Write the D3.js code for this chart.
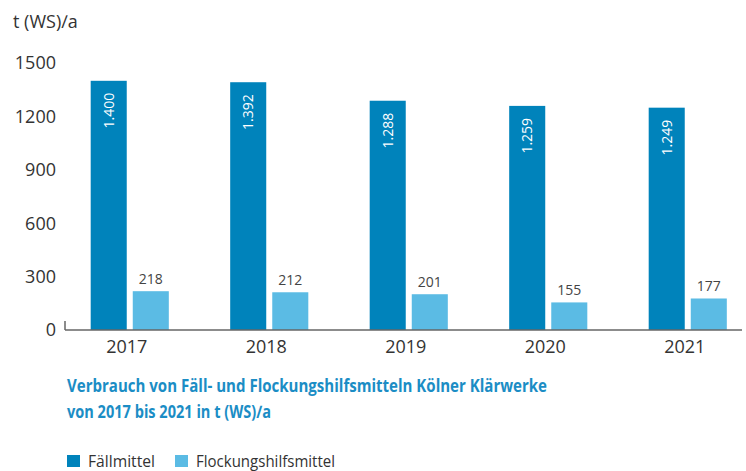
<!DOCTYPE html>
<html>
<head>
<meta charset="utf-8">
<script src="https://cdn.jsdelivr.net/npm/d3@7"></script>
<style>
  body { margin: 0; background: #fff; }
  svg { display: block; font-family: "Open Sans", "Noto Sans", sans-serif; }
</style>
</head>
<body>
<div id="chart"></div>
<script>
var years = ["2017", "2018", "2019", "2020", "2021"];
var series = ["Fällmittel", "Flockungshilfsmittel"];
var faellmittel = [1400, 1392, 1288, 1259, 1249];
var flockung = [218, 212, 201, 155, 177];
var yTicks = [0, 300, 600, 900, 1200, 1500];

var width = 746, height = 471;
var colors = ["#0083bb", "#5bbbe4"];
var de = d3.formatLocale({ decimal: ",", thousands: ".", grouping: [3], currency: ["", " €"] });
var fmt = de.format(",d");

var svg = d3.select("#chart").append("svg")
    .attr("width", width)
    .attr("height", height);

var x0 = d3.scaleBand()
    .domain(years)
    .range([60, 757.5])
    .paddingInner(0.44)
    .paddingOuter(0.22);

var x1 = d3.scaleBand()
    .domain(series)
    .range([0, x0.bandwidth()])
    .paddingInner(0.143);

var y = d3.scaleLinear()
    .domain([0, 1500])
    .range([330, 63]);

// axis title
svg.append("text")
    .attr("x", 13)
    .attr("y", 28)
    .attr("font-size", 18)
    .attr("fill", "#333")
    .text("t (WS)\u2215a");

// y tick labels
svg.selectAll(".ytick")
    .data(yTicks)
    .enter()
    .append("text")
    .attr("class", "ytick")
    .attr("x", 56)
    .attr("y", function (d) { return y(d); })
    .attr("dy", "0.35em")
    .attr("text-anchor", "end")
    .attr("font-size", 18)
    .attr("fill", "#333")
    .text(function (d) { return d; });

var rows = years.map(function (yr, i) {
  return { year: yr, values: [faellmittel[i], flockung[i]] };
});

var groups = svg.selectAll(".group")
    .data(rows)
    .enter()
    .append("g")
    .attr("class", "group")
    .attr("transform", function (d) { return "translate(" + x0(d.year) + ",0)"; });

groups.selectAll("rect")
    .data(function (d) { return d.values.map(function (v, j) { return { s: series[j], v: v, j: j }; }); })
    .enter()
    .append("rect")
    .attr("x", function (d) { return x1(d.s); })
    .attr("y", function (d) { return y(d.v); })
    .attr("width", x1.bandwidth())
    .attr("height", function (d) { return y(0) - y(d.v); })
    .attr("fill", function (d) { return colors[d.j]; });

// rotated labels inside dark bars
groups.append("text")
    .attr("transform", function (d) {
      var cx = x1(series[0]) + x1.bandwidth() / 2;
      return "translate(" + cx + "," + (y(d.values[0]) + 12) + ") rotate(-90)";
    })
    .attr("text-anchor", "end")
    .attr("dy", "0.35em")
    .attr("font-size", 14)
    .attr("fill", "#fff")
    .text(function (d) { return fmt(d.values[0]); });

// labels above light bars
groups.append("text")
    .attr("x", x1(series[1]) + x1.bandwidth() / 2)
    .attr("y", function (d) { return y(d.values[1]) - 7; })
    .attr("text-anchor", "middle")
    .attr("font-size", 14)
    .attr("fill", "#444")
    .text(function (d) { return d.values[1]; });

// year labels
groups.append("text")
    .attr("x", x0.bandwidth() / 2 - 3)
    .attr("y", 353)
    .attr("text-anchor", "middle")
    .attr("font-size", 18)
    .attr("fill", "#333")
    .text(function (d) { return d.year; });

// baseline and little tick
svg.append("line")
    .attr("x1", 65).attr("x2", 742)
    .attr("y1", y(0)).attr("y2", y(0))
    .attr("stroke", "#666").attr("stroke-width", 1.5);
svg.append("line")
    .attr("x1", 65).attr("x2", 65)
    .attr("y1", y(0) - 9).attr("y2", y(0))
    .attr("stroke", "#666").attr("stroke-width", 1.5);

// caption
var caption = [
  "Verbrauch von Fäll- und Flockungshilfsmitteln Kölner Klärwerke",
  "von 2017 bis 2021 in t (WS)\u2215a"
];
var capLen = [480, 204];
svg.selectAll(".caption")
    .data(caption)
    .enter()
    .append("text")
    .attr("class", "caption")
    .attr("x", 67)
    .attr("y", function (d, i) { return 392 + i * 26; })
    .attr("font-size", 17)
    .attr("font-weight", 700)
    .attr("fill", "#1b8dc5")
    .attr("textLength", function (d, i) { return capLen[i]; })
    .attr("lengthAdjust", "spacingAndGlyphs")
    .text(function (d) { return d; });

// legend
var legX = [67, 175];
var legLen = [67, 139];
var legend = svg.selectAll(".legend")
    .data(series)
    .enter()
    .append("g")
    .attr("class", "legend")
    .attr("transform", function (d, i) { return "translate(" + legX[i] + ",455)"; });

legend.append("rect")
    .attr("width", 13)
    .attr("height", 12)
    .attr("fill", function (d, i) { return colors[i]; });

legend.append("text")
    .attr("x", 21)
    .attr("y", 12)
    .attr("font-size", 17)
    .attr("fill", "#333")
    .attr("textLength", function (d, i) { return legLen[i]; })
    .attr("lengthAdjust", "spacingAndGlyphs")
    .text(function (d) { return d; });
</script>
</body>
</html>
